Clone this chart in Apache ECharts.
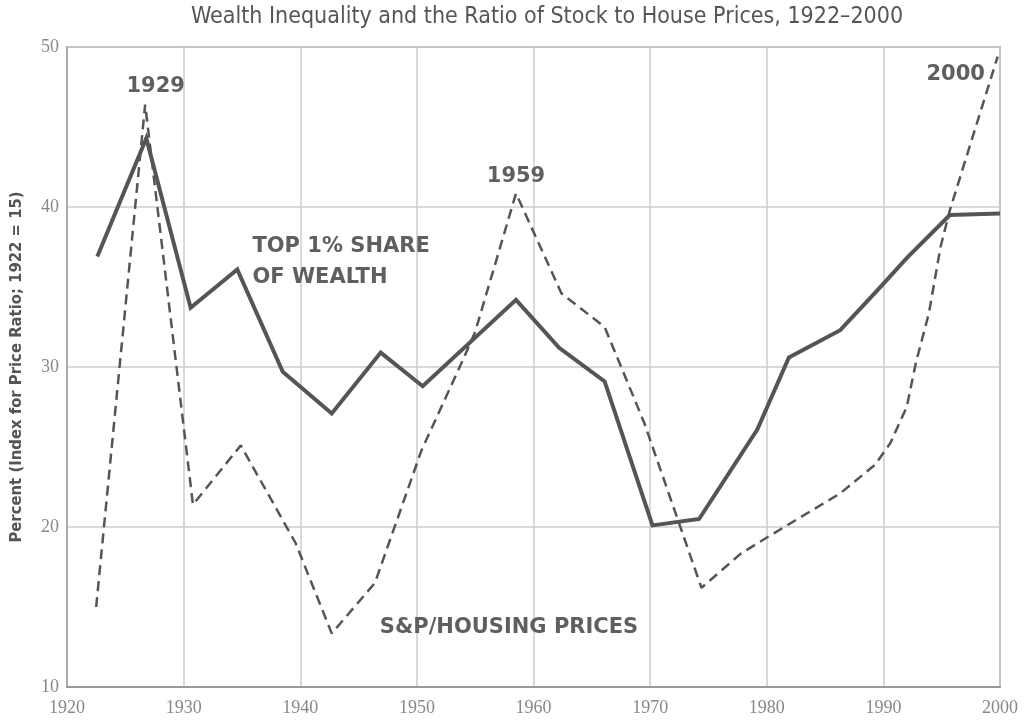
<!DOCTYPE html>
<html>
<head>
<meta charset="utf-8">
<script src="https://cdn.jsdelivr.net/npm/echarts@6/dist/echarts.min.js"></script>
<style>
  html, body { margin: 0; padding: 0; background: #fff; }
  #chart { width: 1029px; height: 725px; }
</style>
</head>
<body>
<div id="chart"></div>
<script>
// top 1% share of wealth (solid line)
const wealthYears = [1922.6, 1926.8, 1930.6, 1934.6, 1938.5, 1942.7, 1946.9, 1950.5, 1958.5, 1962.2, 1966.1, 1970.2, 1974.2, 1979.2, 1981.9, 1986.3, 1989.5, 1992, 1995.7, 2000];
const wealthShare = [36.9, 44.3, 33.7, 36.1, 29.7, 27.1, 30.9, 28.8, 34.2, 31.2, 29.1, 20.1, 20.5, 26.1, 30.6, 32.3, 34.8, 36.8, 39.5, 39.6];

// S&P / housing price ratio (dashed line)
const priceYears = [1922.5, 1926.7, 1930.8, 1934.9, 1939.6, 1942.7, 1946.4, 1950.4, 1953.8, 1955, 1958.5, 1962.4, 1966.1, 1969.5, 1974.4, 1977.8, 1980.6, 1986.3, 1989.3, 1990.6, 1992, 1992.8, 1993.9, 1994.9, 1995.7, 1999.8];
const priceRatio = [15.0, 46.4, 21.4, 25.1, 19.0, 13.35, 16.5, 24.8, 30.2, 32.2, 40.85, 34.6, 32.5, 26.5, 16.2, 18.35, 19.6, 22.1, 23.9, 25.25, 27.5, 30.3, 33.35, 37.5, 39.8, 49.4];

const xTicks = [1920, 1930, 1940, 1950, 1960, 1970, 1980, 1990, 2000];
const yTicks = [10, 20, 30, 40, 50];

const chart = echarts.init(document.getElementById('chart'));

const annoFont = {
  fontFamily: 'DejaVu Sans',
  fontWeight: 'bold',
  fontSize: 21,
  color: '#5f5f5f'
};

chart.setOption({
  animation: false,
  backgroundColor: '#fff',
  title: {
    text: 'Wealth Inequality and the Ratio of Stock to House Prices, 1922\u20132000',
    left: 542,
    textAlign: 'center',
    top: 1,
    textStyle: {
      fontFamily: 'DejaVu Sans Condensed',
      fontWeight: 'normal',
      fontSize: 23,
      color: '#555'
    }
  },
  grid: {
    left: 64,
    right: 29,
    top: 47,
    bottom: 38,
    show: true,
    borderColor: '#aaa',
    borderWidth: 2
  },
  xAxis: {
    type: 'value',
    min: xTicks[0],
    max: xTicks[xTicks.length - 1],
    interval: 10,
    axisLine: { show: true, lineStyle: { color: '#999', width: 2 } },
    axisTick: { show: false },
    axisLabel: {
      margin: 12,
      fontFamily: 'Liberation Serif',
      fontSize: 18,
      color: '#888',
      formatter: v => xTicks.includes(v) ? String(v) : ''
    },
    splitLine: { show: true, lineStyle: { color: '#ccc', width: 1.5 } }
  },
  yAxis: {
    type: 'value',
    min: yTicks[0],
    max: yTicks[yTicks.length - 1],
    interval: 10,
    name: 'Percent (Index for Price Ratio; 1922 = 15)',
    nameLocation: 'middle',
    nameGap: 42,
    nameTextStyle: {
      fontFamily: 'DejaVu Sans Condensed',
      fontWeight: 'bold',
      fontSize: 16.5,
      color: '#555'
    },
    axisLine: { show: true, lineStyle: { color: '#aaa', width: 2 } },
    axisTick: { show: false },
    axisLabel: {
      margin: 8,
      fontFamily: 'Liberation Serif',
      fontSize: 18,
      color: '#888'
    },
    splitLine: { show: true, lineStyle: { color: '#ccc', width: 1.5 } }
  },
  series: [
    {
      name: 'Top 1% share of wealth',
      type: 'line',
      showSymbol: false,
      lineStyle: { color: '#555', width: 4, join: 'miter' },
      data: wealthYears.map((y, i) => [y, wealthShare[i]]),
      markPoint: {
        symbol: 'circle',
        symbolSize: 0,
        label: { position: 'right', distance: 0, ...annoFont, lineHeight: 31 },
        data: [
          { coord: [1935.9, 36.55], value: 'TOP 1% SHARE\nOF WEALTH' }
        ]
      }
    },
    {
      name: 'S&P/housing prices',
      type: 'line',
      showSymbol: false,
      lineStyle: { color: '#555', width: 2.5, type: [10, 6] },
      data: priceYears.map((y, i) => [y, priceRatio[i]]),
      markPoint: {
        symbol: 'circle',
        symbolSize: 0,
        label: { position: 'inside', ...annoFont },
        data: [
          { coord: [1927.6, 47.5], value: '1929' },
          { coord: [1958.5, 41.9], value: '1959' },
          { coord: [1996.2, 48.25], value: '2000' },
          { coord: [1957.9, 13.7], value: 'S&P/HOUSING PRICES' }
        ]
      }
    }
  ]
});
</script>
</body>
</html>
